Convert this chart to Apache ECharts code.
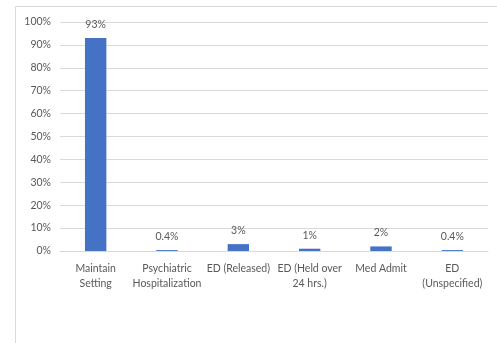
<!DOCTYPE html>
<html><head><meta charset="utf-8">
<script src="https://cdn.jsdelivr.net/npm/echarts@6/dist/echarts.min.js"></script>
<style>html,body{margin:0;padding:0;background:#fff}#c{width:497px;height:343px}</style>
</head><body><div id="c"></div>
<script>
var categories = ["Maintain\nSetting", "Psychiatric\nHospitalization", "ED (Released)", "ED (Held over\n24 hrs.)", "Med Admit", "ED\n(Unspecified)"];
var values = [93, 0.4, 3, 1, 2, 0.4];
var valueLabels = ["93%", "0.4%", "3%", "1%", "2%", "0.4%"];
var yTicks = [0, 10, 20, 30, 40, 50, 60, 70, 80, 90, 100];

var chart = echarts.init(document.getElementById('c'));
var font = 'Lato, "Liberation Sans", sans-serif';
chart.setOption({
  animation: false,
  backgroundColor: '#fff',
  graphic: [{type: 'rect', left: 13, top: 4, shape: {width: 490, height: 338}, style: {fill: 'none', stroke: '#d9d9d9', lineWidth: 1}, silent: true}],
  grid: {left: 60, right: 9, top: 22, bottom: 92},
  xAxis: {
    type: 'category', data: categories,
    axisLine: {show: true, lineStyle: {color: '#d9d9d9'}},
    axisTick: {show: false},
    axisLabel: {color: '#595959', fontFamily: font, fontSize: 10.5, lineHeight: 15, margin: 10, interval: 0}
  },
  yAxis: {
    type: 'value', min: 0, max: 100, interval: 10,
    axisLine: {show: false}, axisTick: {show: false},
    splitLine: {lineStyle: {color: '#d9d9d9'}},
    axisLabel: {color: '#595959', fontFamily: font, fontSize: 10.5, margin: 9,
      formatter: function (v) { return yTicks.indexOf(v) >= 0 ? v + '%' : ''; }}
  },
  series: [{
    type: 'bar', data: values, barWidth: '30%',
    itemStyle: {color: '#4472C4'},
    label: {show: true, position: 'top', distance: 8, color: '#595959', fontFamily: font, fontSize: 10.5,
      formatter: function (p) { return valueLabels[p.dataIndex]; }}
  }]
});
</script></body></html>
